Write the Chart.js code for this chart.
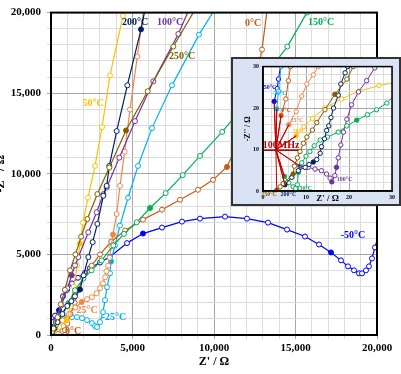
<!DOCTYPE html>
<html>
<head>
<meta charset="utf-8">
<script src="https://cdn.jsdelivr.net/npm/chart.js@4.4.0/dist/chart.umd.min.js"></script>
<style>
  html, body { margin: 0; padding: 0; background: #fff; }
  #wrap { position: relative; width: 401px; height: 374px; overflow: hidden; }
  #main { position: absolute; left: 0; top: 0; }
  #insetBox { position: absolute; left: 231px; top: 57px; width: 166px; height: 145px;
              border: 2px solid #333; background: #dae3f3; }
  #inset { display: block; }
</style>
</head>
<body>
<div id="wrap">
  <canvas id="main" width="401" height="374"></canvas>
  <div id="insetBox"><canvas id="inset" width="166" height="145"></canvas></div>
</div>
<script>
// Nyquist data, Z' and -Z'' in ohm, from high to low frequency
const reM50 = [2.6, 3.3, 3.6, 4.2, 40, 120, 250, 490, 736, 982, 1288, 1656, 2086, 2393, 3006, 3620, 4663, 5644, 6810, 8037, 9141, 10675, 12024, 13313, 14479, 15583, 16442, 17178, 17792, 18221, 18589, 18896, 19080, 19325, 19509, 19693, 19877, 20150];
const imM50 = [21.6, 24.7, 27, 31, 300, 800, 1200, 1540, 2400, 2800, 3200, 3550, 3850, 4150, 4500, 4850, 5700, 6293, 6664, 7034, 7219, 7343, 7219, 6972, 6540, 6108, 5615, 5121, 4628, 4258, 4011, 3825, 3825, 4011, 4258, 4751, 5430, 6400];
const fillM50 = [0, 7, 17, 27];

const reM25 = [3.2, 3.6, 4.2, 5, 60, 120, 200, 350, 550, 780, 982, 1288, 1595, 1902, 2209, 2515, 2700, 2822, 3006, 3190, 3313, 3436, 3620, 3681, 3926, 4233, 4724, 5337, 6196, 7424, 9080, 10300];
const imM25 = [19.8, 24, 30, 38, 50, 200, 450, 750, 950, 1070, 1110, 1110, 1110, 1049, 925, 740, 555, 494, 802, 1419, 2160, 2962, 3825, 4566, 5553, 6787, 8515, 10489, 12834, 15487, 18633, 20600];
const fillM25 = [0, 23];

const re0 = [4.2, 5.3, 5.9, 6.4, 7, 30, 150, 300, 500, 700, 850, 1000, 1200, 1450, 1700, 1963, 2500, 3006, 3700, 4540, 5644, 6810, 7914, 9018, 9939, 10798, 11500, 12000, 12500, 12945, 13300];
const im0 = [18.2, 22.2, 26.6, 30, 33, 100, 250, 350, 330, 250, 300, 700, 1300, 2000, 2800, 3579, 4300, 4998, 5800, 6479, 7157, 7774, 8391, 9008, 9625, 10427, 12000, 13600, 15600, 17708, 20500];
const fill0 = [0, 7, 15, 25];

const re25 = [6.0, 7.7, 9.0, 10.2, 11.7, 12.9, 15, 150, 400, 700, 1100, 1500, 1880, 2209, 2500, 2800, 3006, 3190, 3313, 3400, 3500, 3600, 3700, 3804, 4029, 4233, 4520, 4847, 5296, 5700];
const im25 = [16.0, 19.2, 22.9, 25.8, 28, 30, 34, 200, 500, 900, 1300, 1700, 2050, 2221, 2345, 2590, 2900, 3200, 3580, 3950, 4300, 4800, 5500, 6232, 7507, 9255, 11373, 13985, 17276, 20300];
const fill25 = [0, 12, 23];

const re50 = [7.7, 9.5, 11.5, 14.4, 18.3, 22.3, 27, 31, 60, 200, 500, 982, 1200, 1400, 1600, 1780, 1963, 2270, 2700, 3129, 3620, 4417, 4550];
const im50 = [13.3, 15.5, 17.5, 20, 22.2, 24.1, 25.4, 26.3, 35, 200, 500, 925, 1800, 3000, 4300, 5676, 6972, 8515, 10489, 12895, 16104, 19800, 20400];
const fill50 = [0, 11, 15];

const re100 = [8.6, 10.5, 12.1, 13.6, 14.8, 15.6, 16.0, 16.7, 17.1, 17.5, 18.1, 18.7, 19.5, 20.6, 22.2, 24.1, 26, 28, 100, 300, 650, 1000, 1268, 1472, 1677, 2290, 2802, 3211, 3415, 4193, 5153, 6278, 7812, 8600];
const im100 = [6.0, 5.7, 5.3, 4.9, 4.1, 3.1, 2.2, 3.7, 5.7, 8, 11.1, 14.2, 17.3, 20.8, 23.9, 26.6, 29.7, 33, 250, 800, 1850, 2900, 3702, 4319, 4833, 6376, 7610, 8741, 9153, 11003, 13266, 15735, 18674, 20500];
const fill100 = [0, 6, 8, 22];

const re150 = [5.0, 6.0, 7.0, 7.6, 8.0, 8.2, 9, 10, 10.9, 11.9, 13.3, 15, 17.5, 19.5, 21.8, 24.3, 26.4, 28.8, 31, 100, 300, 600, 1063, 1472, 1984, 2495, 3108, 3824, 4478, 5255, 6074, 7035, 8079, 9141, 10500, 12000, 13300, 14498, 15700];
const im150 = [3.5, 2.0, 1.0, 0.6, 1.5, 4.5, 6.8, 8.4, 9.5, 10.9, 12.3, 13, 14.2, 15.7, 17.1, 18.4, 19.6, 21.2, 23.6, 200, 600, 1200, 1954, 2776, 3497, 4011, 4628, 5553, 6273, 6992, 7877, 8802, 9915, 11106, 12600, 14400, 16300, 17893, 20000];
const fill150 = [0, 5, 14, 22, 30];

const re200 = [5.1, 6.7, 8.2, 9.8, 10.7, 11.7, 12.5, 13.3, 13.6, 14.3, 14.8, 15.3, 15.8, 16.4, 17.5, 18.1, 19.1, 19.7, 21, 60, 200, 400, 700, 1000, 1250, 1472, 1779, 2000, 2290, 2556, 2843, 3211, 3415, 3579, 4029, 4683, 5521, 5850];
const im200 = [1.5, 3.3, 4.9, 5.7, 6.4, 7.0, 7.6, 9.1, 10.7, 12.6, 14.6, 15.7, 17.7, 20, 23.1, 25.8, 28.5, 30, 33, 150, 400, 800, 1300, 1800, 2100, 2400, 2820, 3700, 4833, 5759, 6890, 8638, 9255, 10489, 12649, 15487, 18962, 20600];
const fill200 = [0, 5, 26, 36];

const re250 = [3.2, 4.0, 4.7, 7.0, 7.3, 8.0, 8.6, 9.4, 10.2, 11.5, 12.5, 14.4, 16.7, 19.5, 21, 23, 60, 150, 400, 600, 850, 1166, 1500, 1850, 2229, 2843, 3579, 4601, 5930, 7505, 8900];
const im250 = [0.2, 1.0, 1.8, 4.1, 6.0, 8, 9.5, 11.5, 13, 14.7, 16.5, 19.6, 23.3, 27, 30, 33, 200, 400, 1100, 1900, 2800, 4011, 5000, 6100, 7199, 8741, 10386, 12690, 15117, 17893, 20300];
const fill250 = [0, 3, 12, 27];

// 100 MHz marker: hub point and underline of the label
const hubRe = 3.0, hubIm = 9.9;
const lineRe = [0.1, 8.2];
const lineIm = [9.8, 9.8];

// text labels
const mainText = ['200°C', '100°C', '250°C', '50°C', '0°C', '150°C', '-50°C', '-25°C', '25°C', '0°C'];
const mainTextX = [5153, 7300, 8037, 2577, 12393, 16565, 18528, 3865, 2209, 1350];
const mainTextY = [19374, 19374, 17276, 14376, 19312, 19374, 6170, 1110, 1543, 247];
const insetText = ['-50°C', '-25°C', '0°C', '25°C', '50°C', '100MHz', '100°C', '150°C', '200°C', '250°C'];
const insetTextX = [1.4, 3.8, 5.4, 7.9, 8.4, 4.2, 19.0, 9.6, 5.9, 1.4];
const insetTextY = [25.0, 23.5, 19.5, 16.9, 14.4, 10.9, 2.8, 0.6, -0.9, -0.9];

const colors = {
  '-50°C': '#0000ff', '-25°C': '#00b0f0', '0°C': '#c55a11', '25°C': '#f0884a', '50°C': '#ffc000',
  '100°C': '#7030a0', '150°C': '#00b050', '200°C': '#002060', '250°C': '#7f6000', '100MHz': '#c00000'
};

const series = [
  ['250°C', re250, im250, fill250],
  ['200°C', re200, im200, fill200],
  ['150°C', re150, im150, fill150],
  ['100°C', re100, im100, fill100],
  ['50°C', re50, im50, fill50],
  ['25°C', re25, im25, fill25],
  ['0°C', re0, im0, fill0],
  ['-25°C', reM25, imM25, fillM25],
  ['-50°C', reM50, imM50, fillM50]
];

const serif = '"Liberation Serif", "DejaVu Serif", serif';

function seriesSets() {
  return series.map(([name, re, im, filled]) => ({
    label: name,
    data: re.map((x, i) => ({ x: x, y: im[i] })),
    showLine: true,
    borderColor: colors[name],
    borderWidth: 1.2,
    pointRadius: 2.5,
    pointBorderWidth: 1,
    pointBorderColor: colors[name],
    pointBackgroundColor: re.map((_, i) => filled.includes(i) ? colors[name] : '#ffffff')
  }));
}

// draws the plot frame and the free text labels
const decoPlugin = {
  id: 'deco',
  beforeDraw(chart, args, opts) {
    if (!opts.plotBg) return;
    const a = chart.chartArea, ctx = chart.ctx;
    ctx.save();
    ctx.fillStyle = opts.plotBg;
    ctx.fillRect(a.left, a.top, a.right - a.left, a.bottom - a.top);
    ctx.restore();
  },
  afterDraw(chart, args, opts) {
    const a = chart.chartArea, ctx = chart.ctx;
    const xs = chart.scales.x, ys = chart.scales.y;
    ctx.save();
    ctx.strokeStyle = '#000';
    ctx.lineWidth = opts.frame;
    ctx.strokeRect(a.left, a.top, a.right - a.left, a.bottom - a.top);
    ctx.textAlign = 'center';
    ctx.textBaseline = 'middle';
    opts.texts.forEach((t, i) => {
      ctx.font = t === '100MHz' ? 'bold 10px ' + serif : 'bold ' + opts.size + 'px ' + serif;
      ctx.fillStyle = colors[t];
      ctx.fillText(t, xs.getPixelForValue(opts.tx[i]), ys.getPixelForValue(opts.ty[i]));
    });
    ctx.restore();
  }
};

function gridColor(major) {
  return c => (c.tick && Math.abs(c.tick.value % major) < 1e-6) ? '#a6a6a6' : '#dcdcdc';
}

// main chart
new Chart(document.getElementById('main'), {
  type: 'scatter',
  data: { datasets: seriesSets() },
  plugins: [decoPlugin],
  options: {
    responsive: false,
    animation: false,
    events: [],
    layout: { padding: { top: 11, right: 24, left: 0, bottom: 0 } },
    scales: {
      x: {
        type: 'linear', min: 0, max: 20000,
        afterFit: s => { s.height = 39; },
        ticks: {
          stepSize: 1000, autoSkip: false, maxRotation: 0, padding: 3, color: '#000',
          font: { family: serif, size: 11, weight: 'bold' },
          callback: v => v % 5000 === 0 ? v.toLocaleString('en-US') : ''
        },
        grid: { color: gridColor(5000), tickLength: 4 },
        border: { color: '#000', width: 2 },
        title: { display: true, text: "Z' / Ω", color: '#000', padding: { top: 0, bottom: 5 },
                 font: { family: serif, size: 12, weight: 'bold' } }
      },
      y: {
        type: 'linear', min: 0, max: 20000,
        afterFit: s => { s.width = 51; },
        ticks: {
          stepSize: 1000, autoSkip: false, padding: 6, color: '#000',
          font: { family: serif, size: 11, weight: 'bold' },
          callback: v => v % 5000 === 0 ? v.toLocaleString('en-US') : ''
        },
        grid: { color: gridColor(5000), tickLength: 4 },
        border: { color: '#000', width: 2 },
        title: { display: true, text: "-Z'' / Ω", color: '#000', padding: { top: -6, bottom: 0 },
                 font: { family: serif, size: 12, weight: 'bold' } }
      }
    },
    plugins: {
      legend: { display: false },
      tooltip: { enabled: false },
      deco: { frame: 2, size: 10, texts: mainText, tx: mainTextX, ty: mainTextY }
    }
  }
});

// inset chart: zoom on the high frequency end
const fan = [];
series.slice().reverse().forEach(([name, re, im]) => {
  fan.push({ x: hubRe, y: hubIm }, { x: re[0], y: im[0] });
});
const insetSets = seriesSets();
insetSets.forEach(d => { d.pointRadius = 2.2; d.borderWidth = 1; });
insetSets.unshift(
  { label: 'fan', data: fan, showLine: true, borderColor: '#c00000', borderWidth: 1, pointRadius: 0 },
  { label: 'bar', data: lineRe.map((x, i) => ({ x: x, y: lineIm[i] })), showLine: true,
    borderColor: '#c00000', borderWidth: 1.5, pointRadius: 0 }
);

new Chart(document.getElementById('inset'), {
  type: 'scatter',
  data: { datasets: insetSets },
  plugins: [decoPlugin],
  options: {
    responsive: false,
    animation: false,
    events: [],
    layout: { padding: { top: 3, right: 7, left: 0, bottom: 0 } },
    scales: {
      x: {
        type: 'linear', min: 0, max: 30,
        afterFit: s => { s.height = 13; },
        ticks: {
          stepSize: 2, autoSkip: false, maxRotation: 0, padding: 3, color: '#000',
          font: { family: serif, size: 6, weight: 'bold' },
          callback: v => v % 10 === 0 ? String(v) : ''
        },
        grid: { color: gridColor(10), drawTicks: false },
        border: { color: '#000', width: 1.5 },
        title: { display: true, text: "Z' / Ω", color: '#000', padding: { top: 0, bottom: 0 },
                 font: { family: serif, size: 9, weight: 'bold' } }
      },
      y: {
        type: 'linear', min: 0, max: 30,
        afterFit: s => { s.width = 30; },
        ticks: {
          stepSize: 2, autoSkip: false, padding: 4, color: '#000',
          font: { family: serif, size: 6, weight: 'bold' },
          callback: v => v % 10 === 0 ? String(v) : ''
        },
        grid: { color: gridColor(10), drawTicks: false },
        border: { color: '#000', width: 1.5 },
        title: { display: true, text: "-Z'' / Ω", color: '#000', padding: { top: 10, bottom: 0 },
                 font: { family: serif, size: 8, weight: 'bold' } }
      }
    },
    plugins: {
      legend: { display: false },
      tooltip: { enabled: false },
      deco: { frame: 1.5, size: 6, plotBg: '#ffffff', texts: insetText, tx: insetTextX, ty: insetTextY }
    }
  }
});
</script>
</body>
</html>
